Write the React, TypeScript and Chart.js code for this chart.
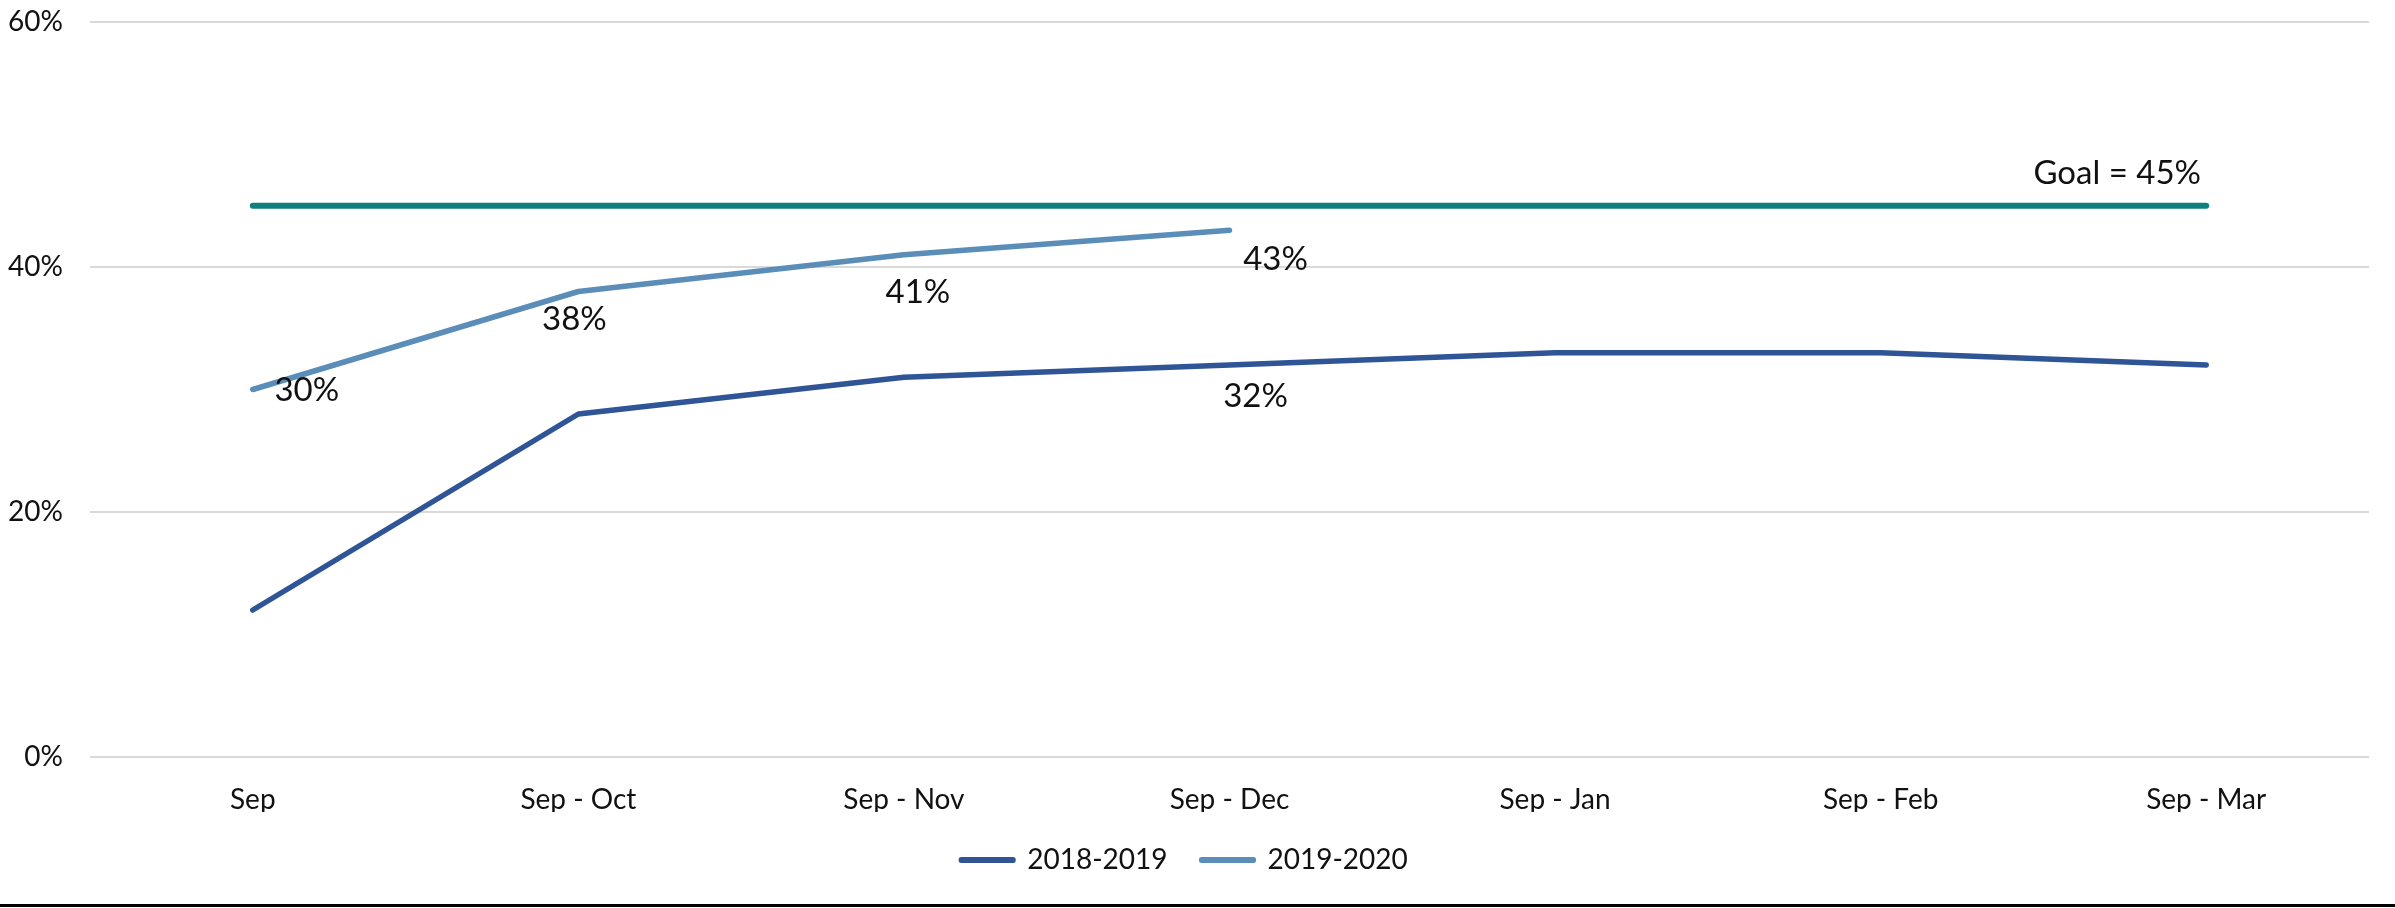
import React, { useEffect, useRef } from "react";
import { Chart, registerables } from "chart.js";

Chart.register(...registerables);

const categories = ["Sep", "Sep - Oct", "Sep - Nov", "Sep - Dec", "Sep - Jan", "Sep - Feb", "Sep - Mar"];
const series2018 = [12, 28, 31, 32, 33, 33, 32];
const series2019 = [30, 38, 41, 43, null, null, null];
const goalValues = [45, 45, 45, 45, 45, 45, 45];
const yTicks = [0, 20, 40, 60];
const goalLabel = "Goal = 45%";

// label placement (style only): dataset index -> point index -> [dx, dy]
const labelOffsets: Record<number, Record<number, [number, number]>> = {
  0: { 3: [26, 31] },
  1: { 0: [54, 1], 1: [-4, 28], 2: [14, 38], 3: [46, 29] },
  2: { 6: [-89, -32] },
};

const FONT = "Lato, 'Open Sans', sans-serif";

const labelPlugin = {
  id: "customLabels",
  afterDatasetsDraw(chart: any) {
    const ctx = chart.ctx;
    ctx.save();
    ctx.fillStyle = "#111";
    ctx.font = `33px ${FONT}`;
    ctx.textAlign = "center";
    ctx.textBaseline = "middle";
    chart.data.datasets.forEach((ds: any, di: number) => {
      const offs = labelOffsets[di];
      if (!offs) return;
      const meta = chart.getDatasetMeta(di);
      Object.keys(offs).forEach((k) => {
        const i = Number(k);
        const el = meta.data[i];
        const v = ds.data[i];
        if (!el || v == null) return;
        const [dx, dy] = offs[i];
        const text = di === 2 ? goalLabel : `${v}%`;
        ctx.fillText(text, el.x + dx, el.y + dy);
      });
    });
    ctx.restore();
  },
};

export default function App() {
  const ref = useRef<HTMLCanvasElement | null>(null);
  useEffect(() => {
    document.body.style.margin = "0";
    const chart = new Chart(ref.current as HTMLCanvasElement, {
      type: "line",
      data: {
        labels: categories,
        datasets: [
          {
            label: "2018-2019",
            data: series2018,
            borderColor: "#2F5597",
            backgroundColor: "#2F5597",
            borderWidth: 5.5,
            pointRadius: 0,
            borderCapStyle: "round",
            borderJoinStyle: "round",
            tension: 0,
          },
          {
            label: "2019-2020",
            data: series2019,
            borderColor: "#5B8DB9",
            backgroundColor: "#5B8DB9",
            borderWidth: 5.5,
            pointRadius: 0,
            borderCapStyle: "round",
            borderJoinStyle: "round",
            tension: 0,
            spanGaps: false,
          },
          {
            label: "Goal",
            data: goalValues,
            borderColor: "#0E807F",
            backgroundColor: "#0E807F",
            borderWidth: 6,
            pointRadius: 0,
            borderCapStyle: "round",
            tension: 0,
          },
        ],
      },
      options: {
        animation: false,
        responsive: false,
        maintainAspectRatio: false,
        layout: { padding: { left: 0, right: 26, top: 22, bottom: 20 } },
        plugins: {
          tooltip: { enabled: false },
          legend: {
            position: "bottom",
            labels: {
              generateLabels: (c: any) =>
                Chart.defaults.plugins.legend.labels
                  .generateLabels(c)
                  .filter((it: any) => it.datasetIndex !== 2)
                  .map((it: any) => ({ ...it, lineWidth: 5, lineCap: "round", lineJoin: "round" })),
              boxWidth: 52,
              boxHeight: 1,
              padding: 34,
              color: "#111",
              font: { family: FONT, size: 28 },
            },
          },
        },
        scales: {
          x: {
            offset: true,
            afterFit: (s: any) => {
              s.height = 55;
            },
            grid: { display: false, drawTicks: false },
            border: { display: false },
            ticks: { color: "#111", font: { family: FONT, size: 28 }, padding: 26, maxRotation: 0 },
          },
          y: {
            min: 0,
            max: 60,
            afterFit: (s: any) => {
              s.width = 90;
              s.paddingTop = 0;
              s.paddingBottom = 0;
            },
            afterBuildTicks: (s: any) => {
              s.ticks = yTicks.map((v) => ({ value: v }));
            },
            grid: { color: "#D9D9D9", lineWidth: 2, drawTicks: false },
            border: { display: false },
            ticks: {
              color: "#111",
              font: { family: FONT, size: 28 },
              padding: 27,
              callback: (v: any) => `${v}%`,
            },
          },
        },
      },
      plugins: [labelPlugin],
    });
    return () => chart.destroy();
  }, []);
  return (
    <div style={{ position: "absolute", left: 0, top: 0, width: 2395, height: 908, background: "#fff" }}>
      <canvas ref={ref} width={2395} height={904} style={{ display: "block", width: 2395, height: 904 }} />
      <div style={{ width: 2395, height: 3, background: "#000" }} />
    </div>
  );
}
